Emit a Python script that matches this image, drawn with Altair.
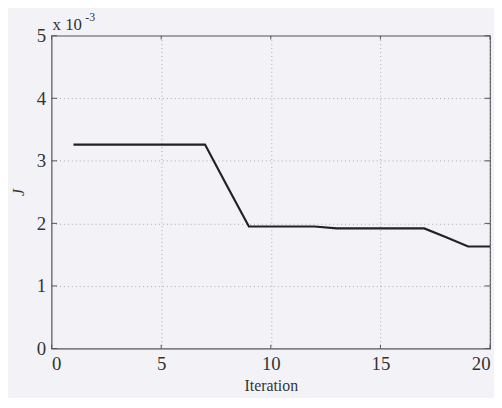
import altair as alt
import pandas as pd

iterations = list(range(1, 21))
j_values = [3.26, 3.26, 3.26, 3.26, 3.26, 3.26, 3.26, 2.60, 1.95, 1.95,
            1.95, 1.95, 1.92, 1.92, 1.92, 1.92, 1.92, 1.78, 1.63, 1.63]
x_ticks = [0, 5, 10, 15, 20]
y_ticks = [0, 1, 2, 3, 4, 5]

df = pd.DataFrame({"Iteration": iterations, "J": j_values})

FONT = "Liberation Serif"
xs = alt.Scale(domain=[0, 20], nice=False)
ys = alt.Scale(domain=[0, 5], nice=False)

line = alt.Chart(df).mark_line(color="#222222", strokeWidth=2.2).encode(
    x=alt.X("Iteration:Q", scale=xs,
            axis=alt.Axis(values=x_ticks, title="Iteration", grid=True, format="d",
                          gridDash=[1, 3], gridColor="#999999", gridOpacity=0.8,
                          ticks=False, domain=False, labelPadding=6,
                          labelFontSize=19, titleFontSize=16, titlePadding=4,
                          labelFont=FONT, titleFont=FONT, titleFontWeight="normal",
                          labelColor="#333333", titleColor="#333333")),
    y=alt.Y("J:Q", scale=ys,
            axis=alt.Axis(values=y_ticks, title="J", grid=True, format="d",
                          gridDash=[1, 3], gridColor="#999999", gridOpacity=0.8,
                          ticks=False, domain=False, labelPadding=6,
                          labelFontSize=19, titleFontSize=16, titlePadding=10,
                          labelFont=FONT, titleFont=FONT, titleFontWeight="normal",
                          titleFontStyle="italic",
                          labelColor="#333333", titleColor="#333333")),
)

# inward tick marks on all four sides
xt = pd.DataFrame({"x": x_ticks})
yt = pd.DataFrame({"y": y_ticks})
tick_len_y = 0.06
tick_len_x = 0.25
xb = alt.Chart(xt).transform_calculate(y0="0", y1=str(tick_len_y)).mark_rule(color="#555555").encode(
    x=alt.X("x:Q", scale=xs), y=alt.Y("y0:Q", scale=ys), y2="y1:Q")
xtop = alt.Chart(xt).transform_calculate(y0="5", y1=str(5 - tick_len_y)).mark_rule(color="#555555").encode(
    x=alt.X("x:Q", scale=xs), y=alt.Y("y0:Q", scale=ys), y2="y1:Q")
yl = alt.Chart(yt).transform_calculate(x0="0", x1=str(tick_len_x)).mark_rule(color="#555555").encode(
    y=alt.Y("y:Q", scale=ys), x=alt.X("x0:Q", scale=xs), x2="x1:Q")
yr = alt.Chart(yt).transform_calculate(x0="20", x1=str(20 - tick_len_x)).mark_rule(color="#555555").encode(
    y=alt.Y("y:Q", scale=ys), x=alt.X("x0:Q", scale=xs), x2="x1:Q")

exp_df = pd.DataFrame({"x": [0], "y": [5]})
mult = alt.Chart(exp_df).mark_text(text="x 10", font=FONT, fontSize=17, align="left",
                                   baseline="bottom", dx=1, dy=-2, color="#333333").encode(
    x=alt.X("x:Q", scale=xs), y=alt.Y("y:Q", scale=ys))
sup = alt.Chart(exp_df).mark_text(text="-3", font=FONT, fontSize=12, align="left",
                                  baseline="bottom", dx=34, dy=-12, color="#333333").encode(
    x=alt.X("x:Q", scale=xs), y=alt.Y("y:Q", scale=ys))

chart = alt.layer(line, xb, xtop, yl, yr, mult, sup).properties(
    width=443, height=316,
    autosize=alt.AutoSizeParams(type="none"),
    padding={"left": 44, "top": 26, "right": 4, "bottom": 48},
    background="#f3f3f7",
).configure_view(stroke="#555555", strokeWidth=1.2, fill="#f3f3f7")

chart.save("out.html", embed_options={"renderer": "svg", "actions": False})
